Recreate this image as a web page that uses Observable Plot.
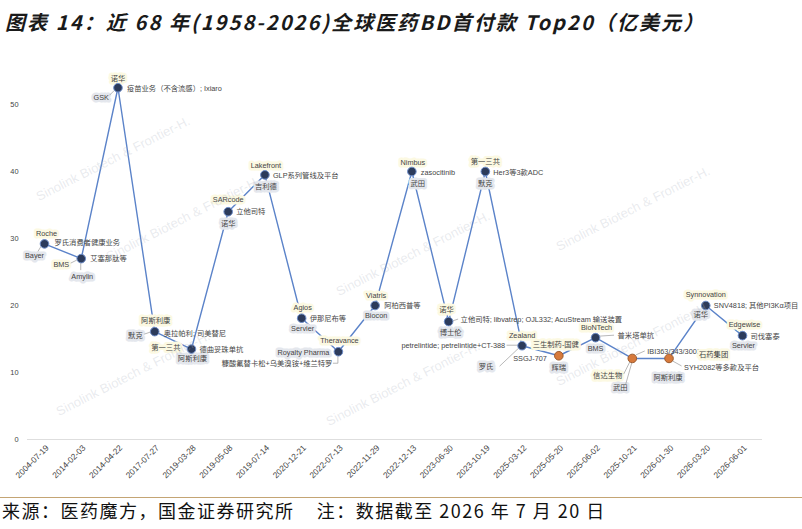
<!DOCTYPE html>
<html><head><meta charset="utf-8">
<script src="https://cdn.jsdelivr.net/npm/d3@7"></script>
<script src="https://cdn.jsdelivr.net/npm/@observablehq/plot@0.6"></script>
<style>
body{margin:0;background:#fff;width:802px;height:529px;overflow:hidden;position:relative;font-family:"Noto Sans CJK SC",sans-serif}
#title{height:36px;padding-top:4px;line-height:36px;padding-left:5px;font-size:20px;letter-spacing:2.1px;font-weight:bold;font-style:italic;color:#1a1a1a;white-space:nowrap}
#chart{height:455px;position:relative}
#foot{margin-top:2px;border-top:1.5px solid #c4a574;line-height:24px;font-size:18px;letter-spacing:1.5px;padding-left:2px;color:#111;white-space:nowrap}
#wm{position:absolute;left:0;top:40px;width:802px;height:455px;overflow:hidden;pointer-events:none}
.wm{position:absolute;color:rgba(175,182,195,0.28);font:13px "Liberation Sans",Arial;transform-origin:0 100%;transform:rotate(-27deg);white-space:nowrap;line-height:13px}
</style></head><body>
<div id="title">图表 14：近 68 年(1958-2026)全球医药BD首付款 Top20（亿美元）</div>
<div id="chart"></div>
<div id="foot">来源：医药魔方，国金证券研究所&nbsp;&nbsp;&nbsp;&nbsp;注：数据截至 2026 年 7 月 20 日</div>
<div id="wm"></div>
<script>
// ---- data ----
const dates = ["2004-07-19","2014-02-03","2014-04-22","2017-07-27","2019-03-28","2019-05-08","2019-07-14","2020-12-21","2022-07-13","2022-11-29","2022-12-13","2023-06-30","2023-10-19","2025-03-12","2025-05-20","2025-06-02","2025-10-21","2026-01-30","2026-03-20","2026-06-01"];
const upfront = [29.2,27.0,52.5,16.1,13.5,34.0,39.5,18.1,13.1,20.0,40.0,17.6,40.0,14.0,12.5,15.2,12.1,12.1,20.0,15.5];
const licensors = ["Roche","BMS","诺华","阿斯利康","第一三共","SARcode","Lakefront","Agios","Theravance","Viatris","Nimbus","诺华","第一三共","Zealand","三生制药-国健","BioNTech","信达生物","石药集团","Synnovation","Edgewise"];
const licensees = ["Bayer","Amylin","GSK","默克","阿斯利康","诺华","吉利德","Servier","Royalty Pharma","Biocon","武田","博士伦","默克","罗氏","辉瑞","BMS","武田","阿斯利康","诺华","Servier"];
const assets = ["罗氏消费者健康业务","艾塞那肽等","疫苗业务（不含流感）; Ixiaro","奥拉帕利; 司美替尼","德曲妥珠单抗","立他司特","GLP系列管线及平台","伊那尼布等","糠酸氟替卡松+乌美溴铵+维兰特罗","阿柏西普等","zasocitinib","立他司特; libvatrep; OJL332; AcuStream 输送装置","Her3等3款ADC","petrelintide; petrelintide+CT-388","SSGJ-707","普米塔单抗","IBI363/343/3001","SYH2082等多款及平台","SNV4818; 其他PI3Kα项目","司伐塞泰"];
const chineseOrigin = [false,false,false,false,false,false,false,false,false,false,false,false,false,false,true,false,true,true,false,false];
const assetUnderlined = [true,true,true,true,false,false,true,true,true,true,true,false,true,true,true,false,true,true,true,true];
const yTicks = [0,10,20,30,40,50];

// ---- label layout (pixel offsets from each point) ----
const licPos = [[2,-10,"middle"],[-12,6,"end"],[0,-9,"middle"],[1,-11,"middle"],[-11,-1,"end"],[0,-12,"middle"],[1,-9,"middle"],[1,-11,"middle"],[1,-11,"middle"],[1,-10,"middle"],[1,-9,"middle"],[-2,-12,"middle"],[0,-10,"middle"],[0,-10,"middle"],[-3,-11,"middle"],[1,-10,"middle"],[-10,17,"end"],[30,-4,"start"],[0,-11,"middle"],[2,-11,"middle"]];
const leePos = [[-10,12,"middle"],[1,18,"middle"],[-9,10,"end"],[-12,4,"end"],[1,10,"middle"],[0,12,"middle"],[1,12,"middle"],[1,10,"middle"],[-9,1,"end"],[1,10,"middle"],[6,12,"middle"],[2,11,"middle"],[0,12,"middle"],[-36,21,"middle"],[0,12,"middle"],[0,11,"middle"],[-12,29,"middle"],[-1,19,"middle"],[-5,9,"middle"],[1,10,"middle"]];
const assetPos = [[10,-1,"start"],[9,0,"start"],[9,1,"start"],[9,2,"start"],[8,1,"start"],[8,0,"start"],[8,1,"start"],[8,0,"start"],[-6,12,"end"],[9,0,"start"],[9,1,"start"],[12,-2,"start"],[8,1,"start"],[-17,0,"end"],[-12,3,"end"],[22,-2,"start"],[15,-7,"start"],[15,9,"start"],[8,0,"start"],[8,1,"start"]];
// leader lines: [x1,y1,x2,y2] offsets from the point
const leaders = {0:[[-3,3,-6,8]],1:[[-4,2,-10,5],[0,4,0,12]],2:[[-3,3,-8,8]],3:[[-4,1,-10,3]],8:[[0,5,0,12],[0,12,-5,12]],11:[[4,0,10,-2]],13:[[-4,0,-15,0],[-3,3,-22,21]],15:[[4,-1,19,-2]],16:[[-2,4,-8,16],[0,5,-6,26],[4,-3,13,-7]],17:[[4,3,13,8]]};

const table = dates.map((d,i)=>({date:d, value:upfront[i], cn:chineseOrigin[i]}));

const labelFont = "'Liberation Sans','Noto Sans CJK SC',sans-serif";
const labelMarks = [];
dates.forEach((d,i)=>{
  const row = [{date:d, value:upfront[i]}];
  const add = (text,pos,bg,aria)=>{
    labelMarks.push(Plot.text(row,{x:"date",y:"value",text:()=>text,dx:pos[0],dy:pos[1],textAnchor:pos[2],
      fontSize:7.3,fontFamily:labelFont,fill:"#444",stroke:bg,strokeWidth:bg==="none"?0:5,strokeLinejoin:"round",ariaLabel:aria}));
  };
  add(licensors[i],licPos[i],"#fcf9e2","lic");
  add(licensees[i],leePos[i],"#e4e7ed","lee");
  add(assets[i],assetPos[i],"none",assetUnderlined[i]?"asset-ul":"asset");
});

const plot = Plot.plot({
  width:802, height:455,
  marginLeft:44, marginRight:60, marginTop:30.5, marginBottom:56,
  style:{background:"transparent",fontFamily:"'Liberation Sans',Arial,sans-serif",overflow:"visible"},
  x:{type:"point",domain:dates,padding:0,round:false,label:null},
  y:{domain:[0,55],label:null},
  marks:[
    Plot.ruleY([0],{stroke:"#dedede",strokeWidth:1,insetLeft:-17,insetRight:-20}),
    Plot.axisX({tickRotate:-45,tickSize:0,tickPadding:7,fontSize:8.4,fill:"#444",dx:3}),
    Plot.axisY({ticks:yTicks,tickSize:0,tickPadding:26,fontSize:7.4,fill:"#444"}),
    Plot.line(table,{x:"date",y:"value",stroke:"#5b83c9",strokeWidth:1.4}),
    ...labelMarks,
    Plot.dot(table,{x:"date",y:"value",r:4.3,fill:d=>d.cn?"#d77a3c":"#2c3b5b",stroke:d=>d.cn?"#9b5a2e":"#6c8cc9",strokeWidth:1}),
  ]
});
document.getElementById("chart").appendChild(plot);

// underline asset names
plot.querySelectorAll('g[aria-label="asset-ul"] text').forEach(t=>{t.style.textDecoration="underline";});

// leader lines via the plot's own scales
const sx = plot.scale("x"), sy = plot.scale("y");
const svg = d3.select(plot);
const lg = svg.insert("g","g[aria-label='dot']").attr("stroke","#999").attr("stroke-width",0.7).attr("fill","none");
Object.entries(leaders).forEach(([i,segs])=>{
  const px = sx.apply(dates[i]), py = sy.apply(upfront[i]);
  segs.forEach(s=>lg.append("line").attr("x1",px+s[0]).attr("y1",py+s[1]).attr("x2",px+s[2]).attr("y2",py+s[3]));
});

// watermarks (kept fully inside the chart area)
const wmText = "Sinolink Biotech & Frontier-H.";
const wmSpots = [[40,150],[110,210],[60,365],[340,245],[330,375],[560,335],[560,200]];
const wm = document.getElementById("wm");
wmSpots.forEach(([x,y])=>{const d=document.createElement("div");d.className="wm";d.textContent=wmText;d.style.left=x+"px";d.style.top=y+"px";wm.appendChild(d);});
</script>
</body></html>
